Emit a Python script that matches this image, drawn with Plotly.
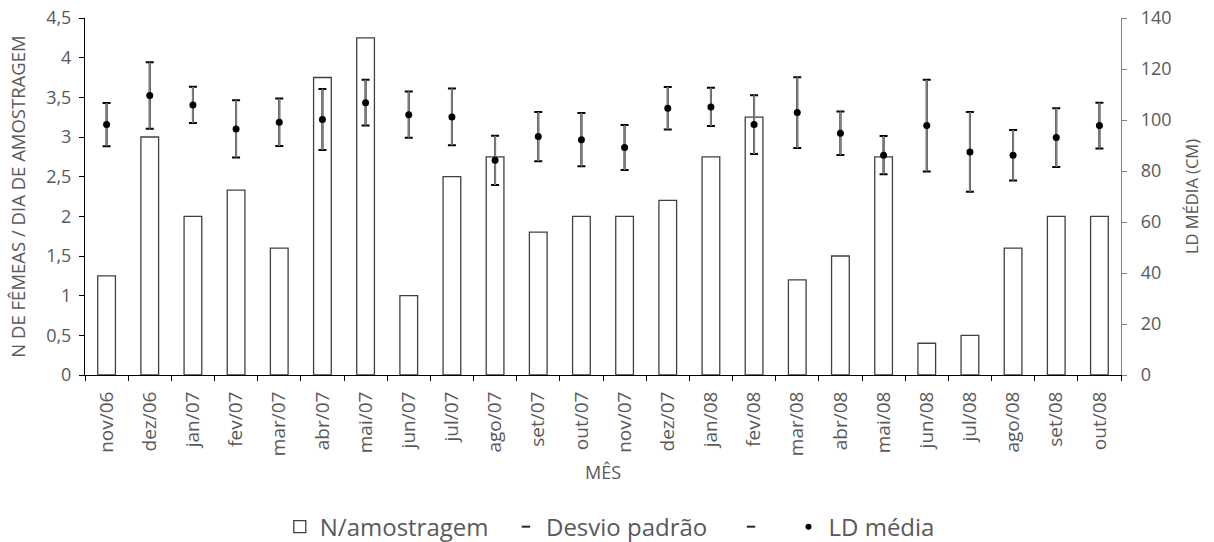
import plotly.graph_objects as go

months = ["nov/06", "dez/06", "jan/07", "fev/07", "mar/07", "abr/07", "mai/07", "jun/07",
          "jul/07", "ago/07", "set/07", "out/07", "nov/07", "dez/07", "jan/08", "fev/08",
          "mar/08", "abr/08", "mai/08", "jun/08", "jul/08", "ago/08", "set/08", "out/08"]

n_amostragem = [1.25, 3.0, 2.0, 2.33, 1.6, 3.75, 4.25, 1.0, 2.5, 2.75, 1.8, 2.0,
                2.0, 2.2, 2.75, 3.25, 1.2, 1.5, 2.75, 0.4, 0.5, 1.6, 2.0, 2.0]

ld_media = [98.2, 109.6, 105.9, 96.5, 99.1, 100.2, 106.8, 102.1, 101.2, 84.2, 93.5, 92.3,
            89.2, 104.6, 105.1, 98.2, 102.9, 94.8, 86.2, 97.8, 87.5, 86.2, 93.1, 97.8]

desvio = [8.45, 13.0, 7.1, 11.2, 9.3, 12.0, 9.0, 9.05, 11.15, 9.65, 9.65, 10.45,
          8.8, 8.35, 7.5, 11.5, 13.9, 8.55, 7.5, 17.95, 15.65, 9.9, 11.55, 9.0]

FONT = "Open Sans"
GRAY_TXT = "#595959"
NB = "\u00a0"

fig = go.Figure()

fig.add_trace(go.Bar(
    x=months, y=n_amostragem, name="N/amostragem" + NB * 2,
    marker=dict(color="white", line=dict(color="#404040", width=1.3)),
    yaxis="y",
))

# black caps
fig.add_trace(go.Scatter(
    x=months, y=ld_media, mode="markers", yaxis="y2", showlegend=False,
    marker=dict(color="rgba(0,0,0,0)", size=1),
    error_y=dict(type="data", array=desvio, visible=True, color="#000000",
                 thickness=2, width=4),
    hoverinfo="skip",
))
# gray vertical + dots
fig.add_trace(go.Scatter(
    x=months, y=ld_media, mode="markers", yaxis="y2", showlegend=False,
    marker=dict(color="#000000", size=7),
    error_y=dict(type="data", array=desvio, visible=True, color="#808080",
                 thickness=1.8, width=0),
))

# legend entries
fig.add_trace(go.Scatter(
    x=[None], y=[None], mode="markers", name="Desvio padrão" + NB * 3, yaxis="y2",
    marker=dict(symbol="line-ew", size=6, line=dict(color="#262626", width=2)),
))
fig.add_trace(go.Scatter(
    x=[None], y=[None], mode="markers", name=NB * 2, yaxis="y2",
    marker=dict(symbol="line-ew", size=6, line=dict(color="#262626", width=2)),
))
fig.add_trace(go.Scatter(
    x=[None], y=[None], mode="markers", name="LD média", yaxis="y2",
    marker=dict(symbol="circle", size=6, color="#000000"),
))

fig.update_layout(
    width=1214, height=542,
    margin=dict(l=85, r=93, t=18, b=167, autoexpand=False),
    paper_bgcolor="white", plot_bgcolor="white",
    separators=",.",
    bargap=0.59,
    font=dict(family=FONT, color=GRAY_TXT, size=18),
    xaxis=dict(
        type="category", range=[-0.5, 23.5], tickangle=-90, tickson="boundaries",
        ticks="outside", ticklen=5, tickcolor="#000000",
        showline=True, linecolor="#000000", linewidth=1,
        showgrid=False, tickfont=dict(size=19, color=GRAY_TXT),
        ticklabelstandoff=8, automargin=False,
        title=dict(text="MÊS", font=dict(size=18, color=GRAY_TXT), standoff=11),
    ),
    yaxis=dict(
        range=[0, 4.5], dtick=0.5, ticks="outside", ticklen=5, tickcolor="#000000",
        showline=True, linecolor="#000000", linewidth=1, showgrid=False, zeroline=False,
        tickfont=dict(size=18, color=GRAY_TXT), ticklabelstandoff=4, automargin=False,
        title=dict(text="N DE FÊMEAS / DIA DE AMOSTRAGEM", font=dict(size=18.5, color=GRAY_TXT)),
    ),
    yaxis2=dict(
        range=[0, 140], dtick=20, overlaying="y", side="right",
        ticks="outside", ticklen=5, tickcolor="#808080",
        showline=True, linecolor="#808080", linewidth=1.3, showgrid=False, zeroline=False,
        tickfont=dict(size=18, color=GRAY_TXT), ticklabelstandoff=10, automargin=False,
        title=dict(text="LD MÉDIA (CM)", font=dict(size=16.5, color=GRAY_TXT)),
    ),
    legend=dict(
        orientation="h", x=0.188, xanchor="left", y=-0.426, yanchor="middle",
        font=dict(size=24, color=GRAY_TXT), itemwidth=30,
        traceorder="normal",
    ),
    showlegend=True,
)

fig.write_html("out.html")
